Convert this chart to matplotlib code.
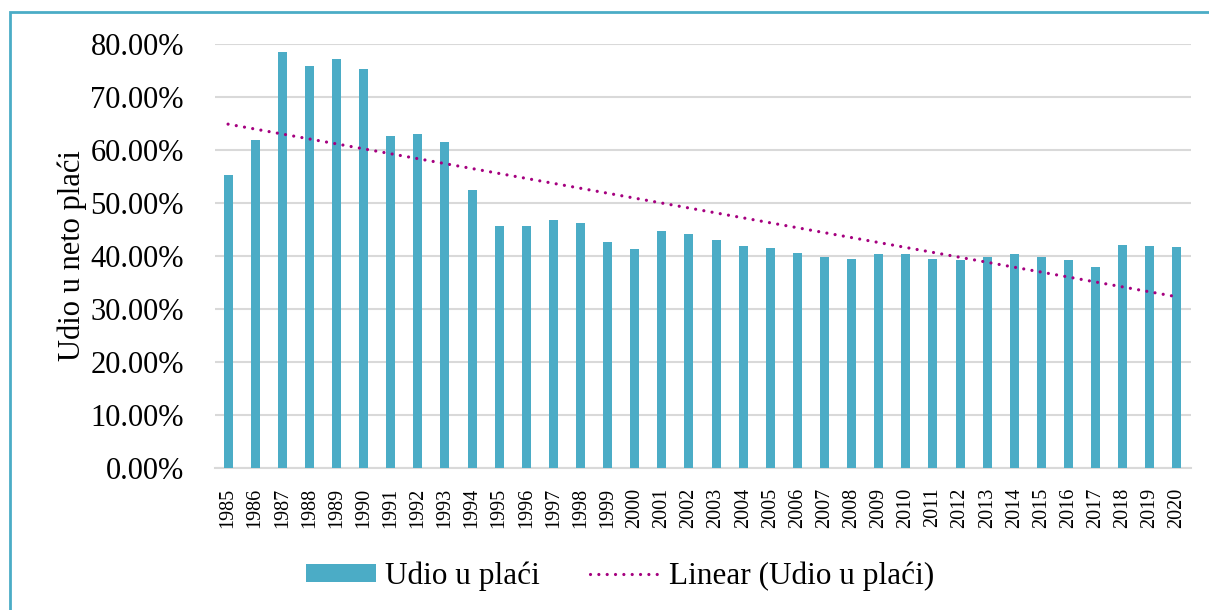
import numpy as np
import matplotlib
matplotlib.use("Agg")
import matplotlib.pyplot as plt
from matplotlib.patches import Rectangle
from matplotlib.lines import Line2D
from matplotlib.patches import Patch
from matplotlib.ticker import FuncFormatter

years = list(range(1985, 2021))
share = [55.2, 61.8, 78.4, 75.9, 77.2, 75.3, 62.7, 63.1, 61.6, 52.5,
         45.7, 45.7, 46.8, 46.2, 42.6, 41.3, 44.7, 44.2, 43.0, 41.9,
         41.6, 40.5, 39.8, 39.5, 40.4, 40.3, 39.4, 39.2, 39.9, 40.3,
         39.8, 39.2, 37.9, 42.1, 41.9, 41.7]
series_label = "Udio u plaći"
trend_label = "Linear (Udio u plaći)"
ylabel = "Udio u neto plaći"

plt.rcParams['font.family'] = ['Liberation Serif', 'DejaVu Serif']

W, H = 1209, 610
fig = plt.figure(figsize=(W / 100, H / 100), dpi=100)
ax = fig.add_axes([214.5 / W, (H - 468) / H, 976 / W, 424 / H])

x = np.arange(len(years))
vals = np.array(share) / 100.0
bar_color = '#4BACC6'
trend_color = '#A5007F'
dots = (0, (0.01, 2.6))

ax.bar(x, vals, width=0.33, color=bar_color, zorder=3)
coef = np.polyfit(x, vals, 1)
ax.plot(x, np.polyval(coef, x), color=trend_color, lw=2.3,
        linestyle=dots, dash_capstyle='round', zorder=4)

ax.set_xlim(-0.5, len(years) - 0.5)
ax.set_ylim(0, 0.8)
ax.set_yticks(np.arange(0, 0.81, 0.1))
ax.yaxis.set_major_formatter(FuncFormatter(lambda v, p: f"{v*100:.2f}%"))
ax.set_xticks(x)
ax.set_xticklabels([str(y) for y in years], rotation=90, fontsize=14.5)
ax.tick_params(axis='y', labelsize=22, length=0, pad=22)
ax.tick_params(axis='x', length=0, pad=14)
ax.grid(axis='y', color='#D9D9D9', lw=1.5, zorder=0)
for s in ['top', 'right', 'left']:
    ax.spines[s].set_visible(False)
ax.spines['bottom'].set_color('#D9D9D9')
ax.spines['bottom'].set_linewidth(1.5)
ax.set_ylabel(ylabel, fontsize=22)
ax.yaxis.set_label_coords(-0.131, 0.5)

handles = [Patch(facecolor=bar_color, edgecolor='none'),
           Line2D([0], [0], color=trend_color, lw=2.3, linestyle=dots,
                  dash_capstyle='round')]
fig.legend(handles, [series_label, trend_label], loc='center',
           bbox_to_anchor=(620 / W, 1 - 576 / H), ncol=2, frameon=False,
           fontsize=22.5, handlelength=2.25, handletextpad=0.28,
           columnspacing=1.6, handleheight=0.5)

fig.add_artist(Rectangle((10 / W, -0.1), 1.2, 1 - 12.5 / H + 0.1,
                         transform=fig.transFigure, fill=False,
                         edgecolor='#4BACC6', lw=2))

fig.savefig('out.png', dpi=100)
